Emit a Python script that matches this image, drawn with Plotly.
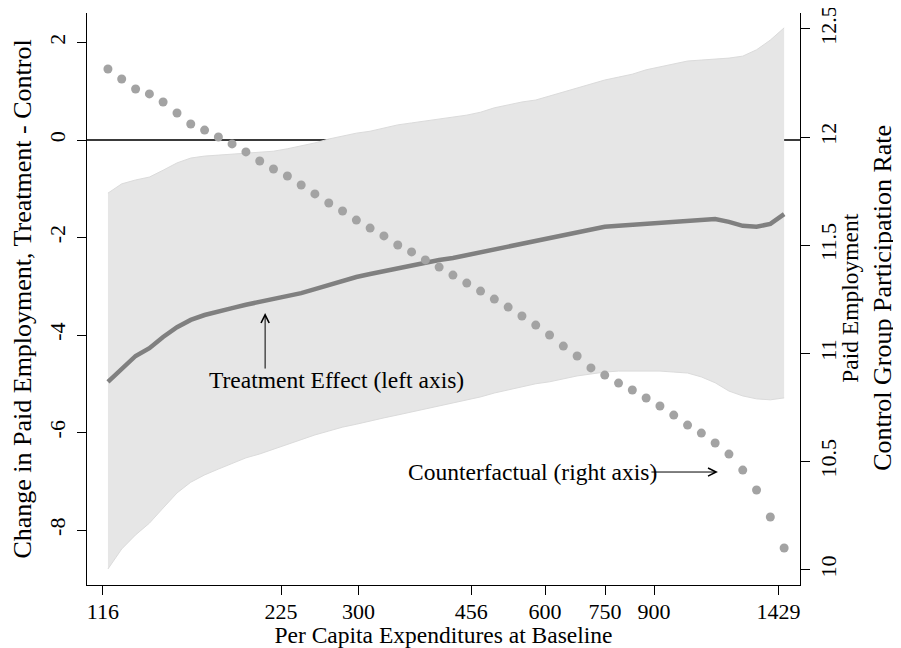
import numpy as np
import plotly.graph_objects as go

# Per capita expenditures at baseline (evaluation grid)
expend = [118.2, 124.4, 131.0, 137.9, 145.1, 152.8, 160.8, 169.3, 178.2, 187.5,
          197.4, 207.8, 218.7, 230.3, 242.4, 255.1, 268.6, 282.7, 297.6, 313.2,
          329.7, 347.1, 365.4, 384.6, 404.8, 426.1, 448.6, 472.2, 497.0, 523.2,
          550.7, 579.7, 610.2, 642.3, 676.1, 711.7, 749.2, 788.6, 830.1, 873.8,
          919.8, 968.2, 1019.2, 1072.8, 1129.3, 1188.7, 1251.3, 1317.1, 1386.4, 1459.4]

# Treatment effect (left axis)
treat = [-4.96, -4.70, -4.43, -4.27, -4.04, -3.84, -3.69, -3.59, -3.53, -3.45,
         -3.38, -3.32, -3.28, -3.22, -3.14, -3.06, -2.97, -2.89, -2.81, -2.75,
         -2.69, -2.63, -2.56, -2.52, -2.46, -2.42, -2.36, -2.30, -2.26, -2.19,
         -2.13, -2.07, -2.01, -1.95, -1.89, -1.83, -1.78, -1.76, -1.74, -1.72,
         -1.70, -1.68, -1.66, -1.62, -1.62, -1.68, -1.76, -1.78, -1.72, -1.52]

# Confidence band (left axis)
upper = [-1.09, -0.90, -0.82, -0.76, -0.62, -0.47, -0.37, -0.33, -0.31, -0.29,
         -0.27, -0.25, -0.23, -0.18, -0.12, -0.06, 0.02, 0.08, 0.14, 0.18,
         0.25, 0.31, 0.35, 0.39, 0.43, 0.47, 0.51, 0.57, 0.66, 0.72,
         0.78, 0.82, 0.90, 0.98, 1.07, 1.15, 1.23, 1.29, 1.35, 1.44,
         1.50, 1.56, 1.62, 1.64, 1.66, 1.68, 1.72, 1.85, 2.05, 2.30]
lower = [-8.80, -8.39, -8.10, -7.86, -7.55, -7.24, -7.02, -6.87, -6.75, -6.63,
         -6.52, -6.44, -6.34, -6.24, -6.15, -6.05, -5.97, -5.89, -5.83, -5.76,
         -5.70, -5.64, -5.58, -5.52, -5.46, -5.39, -5.33, -5.27, -5.19, -5.13,
         -5.07, -5.00, -4.96, -4.90, -4.84, -4.80, -4.76, -4.74, -4.74, -4.74,
         -4.74, -4.76, -4.78, -4.86, -4.98, -5.15, -5.25, -5.31, -5.33, -5.29]

# Counterfactual: control group participation rate in paid employment (right axis)
counterfactual = [12.314, 12.268, 12.222, 12.199, 12.162, 12.111, 12.060, 12.032, 12.000, 11.968,
                  11.931, 11.889, 11.852, 11.820, 11.778, 11.737, 11.695, 11.658, 11.616, 11.579,
                  11.543, 11.501, 11.469, 11.432, 11.399, 11.362, 11.325, 11.288, 11.251, 11.214,
                  11.173, 11.131, 11.085, 11.034, 10.988, 10.933, 10.900, 10.863, 10.831, 10.794,
                  10.757, 10.715, 10.669, 10.632, 10.586, 10.535, 10.461, 10.369, 10.244, 10.101]

x_tickvals = [116, 225, 300, 456, 600, 750, 900, 1429]
x_ticktext = ["116", "225", "300", "456", "600", "750", "900", "1429"]
y_tickvals = [-8, -6, -4, -2, 0, 2]
y_ticktext = ["-8", "-6", "-4", "-2", "0", "2"]
y2_tickvals = [10, 10.5, 11, 11.5, 12, 12.5]
y2_ticktext = ["10", "10.5", "11", "11.5", "12", "12.5"]

FONT = "Liberation Serif"

fig = go.Figure()
fig.add_trace(go.Scatter(x=expend, y=lower, mode="lines",
                         line=dict(color="#dbdbdb", width=1),
                         showlegend=False, hoverinfo="skip"))
fig.add_trace(go.Scatter(x=expend, y=upper, mode="lines", fill="tonexty",
                         fillcolor="#e6e6e6", line=dict(color="#dbdbdb", width=1),
                         showlegend=False, hoverinfo="skip"))
fig.add_trace(go.Scatter(x=expend, y=treat, mode="lines",
                         line=dict(color="#808080", width=4.5),
                         showlegend=False, name="Treatment Effect"))
fig.add_trace(go.Scatter(x=expend, y=counterfactual, yaxis="y2", mode="markers",
                         marker=dict(color="#a3a3a3", size=9),
                         showlegend=False, name="Counterfactual"))

axis_common = dict(showgrid=False, showline=True, linecolor="black", linewidth=1,
                   ticks="outside", ticklen=9, tickwidth=1, tickcolor="black",
                   automargin=False, ticklabeloverflow="allow",
                   tickfont=dict(family=FONT, size=22, color="black"))

# page body adds an 8px offset; figure is sized to fill the remaining window
fig.update_layout(
    width=893, height=640,
    margin=dict(l=79, r=101, t=5, b=63),
    paper_bgcolor="white", plot_bgcolor="white",
    font=dict(family=FONT, color="black"),
    showlegend=False,
    xaxis=dict(type="log", range=[np.log10(109.35), np.log10(1548)],
               tickmode="array", tickvals=x_tickvals, ticktext=x_ticktext,
               zeroline=False, ticklabelstandoff=-2,
               title=dict(text="Per Capita Expenditures at Baseline",
                          font=dict(family=FONT, size=23.5), standoff=8),
               **axis_common),
    yaxis=dict(range=[-9.128, 2.605], tickmode="array", tickvals=y_tickvals,
               ticktext=y_ticktext, tickangle=-90, ticklabelstandoff=3,
               zeroline=True, zerolinecolor="#3a3a3a", zerolinewidth=2,
               title=dict(text="Change in Paid Employment, Treatment - Control",
                          font=dict(family=FONT, size=26), standoff=10),
               **axis_common),
    yaxis2=dict(overlaying="y", side="right", range=[9.930, 12.573],
                tickmode="array", tickvals=y2_tickvals, ticktext=y2_ticktext,
                tickangle=-90, zeroline=False, **axis_common),
)

annotations = [
    dict(text="Treatment Effect (left axis)", x=np.log10(276), y=-4.92,
         xref="x", yref="y", showarrow=False,
         font=dict(family=FONT, size=23.5, color="black")),
    dict(text="", x=np.log10(212), y=-3.55, xref="x", yref="y",
         showarrow=True, ax=0, ay=57, arrowhead=5, arrowsize=1.6,
         arrowwidth=1, arrowcolor="black"),
    dict(text="Counterfactual (right axis)", x=np.log10(572), y=10.452,
         xref="x", yref="y2", showarrow=False,
         font=dict(family=FONT, size=23.5, color="black")),
    dict(text="", x=np.log10(1141), y=10.452, xref="x", yref="y2",
         showarrow=True, ax=-68, ay=0, arrowhead=5, arrowsize=1.6,
         arrowwidth=1, arrowcolor="black"),
    dict(text="Paid Employment", x=1.0701, y=0.502, xref="paper", yref="paper",
         showarrow=False, textangle=-90, xanchor="center", yanchor="middle",
         font=dict(family=FONT, size=23.5, color="black")),
    dict(text="Control Group Participation Rate", x=1.1164, y=0.502,
         xref="paper", yref="paper", showarrow=False, textangle=-90,
         xanchor="center", yanchor="middle",
         font=dict(family=FONT, size=26, color="black")),
]
fig.update_layout(annotations=annotations)

fig.write_html("out.html")
